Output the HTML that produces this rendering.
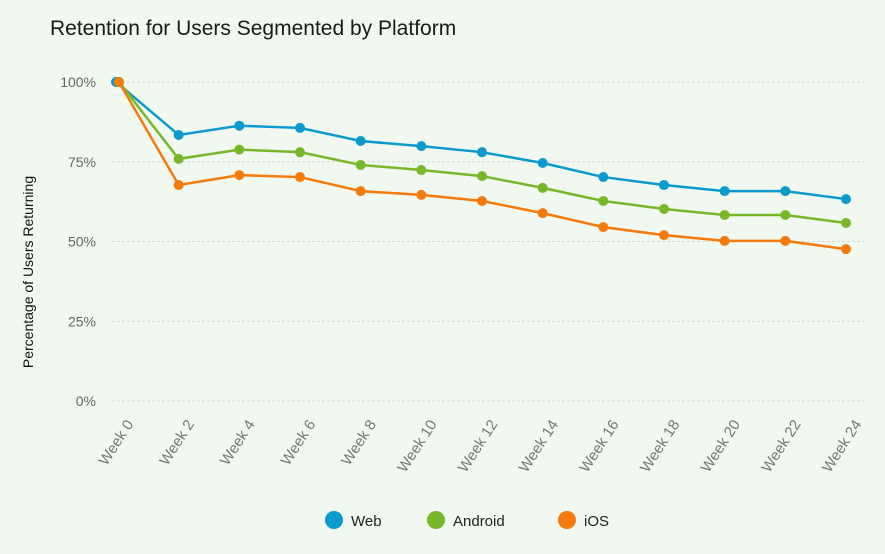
<!DOCTYPE html>
<html><head><meta charset="utf-8"><style>
body{margin:0;background:#f1f8f0;font-family:"Liberation Sans",sans-serif}
svg{display:block}
</style></head><body>
<svg width="885" height="554">
<rect width="885" height="554" fill="#f1f8f0"/>
<text x="50" y="35" font-size="21" fill="#1a1a1a">Retention for Users Segmented by Platform</text>
<text transform="translate(33,272) rotate(-90)" text-anchor="middle" font-size="14" fill="#111">Percentage of Users Returning</text>
<g id="grid"></g><g id="xl"></g><g id="series"></g>
<g>
<g><circle cx="334" cy="520" r="9" fill="#0a9acb"/><text x="351" y="526" font-size="15" fill="#222">Web</text></g>
<g><circle cx="436" cy="520" r="9" fill="#77b82a"/><text x="453" y="526" font-size="15" fill="#222">Android</text></g>
<g><circle cx="567" cy="520" r="9" fill="#f47a0c"/><text x="584" y="526" font-size="15" fill="#222">iOS</text></g>
</g>
</svg>
<script>
const categories=["Week 0","Week 2","Week 4","Week 6","Week 8","Week 10","Week 12","Week 14","Week 16","Week 18","Week 20","Week 22","Week 24"];
const webValues=[100,83.4,86.3,85.6,81.5,79.9,78,74.6,70.2,67.7,65.8,65.8,63.3];
const androidValues=[100,75.9,78.8,78,74,72.4,70.5,66.8,62.7,60.2,58.3,58.3,55.8];
const iosValues=[100,67.7,70.8,70.2,65.8,64.6,62.7,58.9,54.5,52,50.2,50.2,47.6];
const yTicks=[0,25,50,75,100];
const yTickLabels=["0%","25%","50%","75%","100%"];
const NS="http://www.w3.org/2000/svg";
function x(i){return 118+i*(846-118)/(categories.length-1);}
function y(v){return 401-v*(401-82)/100;}
function mk(t,a,p){const e=document.createElementNS(NS,t);for(const k in a)e.setAttribute(k,a[k]);p.appendChild(e);return e;}
const grid=document.getElementById('grid');
yTicks.forEach((t,i)=>{
 const l=mk('line',{x1:112,x2:866,y1:y(t),y2:y(t),stroke:'#d6dcd6','stroke-dasharray':'3,2'},grid);
 
 
 const tx=mk('text',{x:96,y:y(t)+5,'text-anchor':'end','font-size':14,fill:'#666'},grid);
 tx.textContent=yTickLabels[i];
 
 
});
const xl=document.getElementById('xl');
categories.forEach((c,i)=>{
 const t=mk('text',{transform:`translate(${x(i)+16},424) rotate(-57)`,'text-anchor':'end','font-size':15,fill:'#777'},xl);
 t.textContent=c;
 
 
});
const S=document.getElementById('series');
[[webValues,'#0a9acb','web',-2],[androidValues,'#77b82a','android',1],[iosValues,'#f47a0c','ios',1]].forEach(([vals,col,n,off])=>{
 const pts=vals.map((v,i)=>[x(i)+(i==0?off:0),y(v)]);
 const p=mk('polyline',{points:pts.map(q=>q.join(',')).join(' '),fill:'none',stroke:col,'stroke-width':2.5},S);
 
 
 pts.forEach(q=>{
  const c=mk('circle',{cx:q[0],cy:q[1],r:5,fill:col},S);
  
  
 });
});
</script>
</body></html>
